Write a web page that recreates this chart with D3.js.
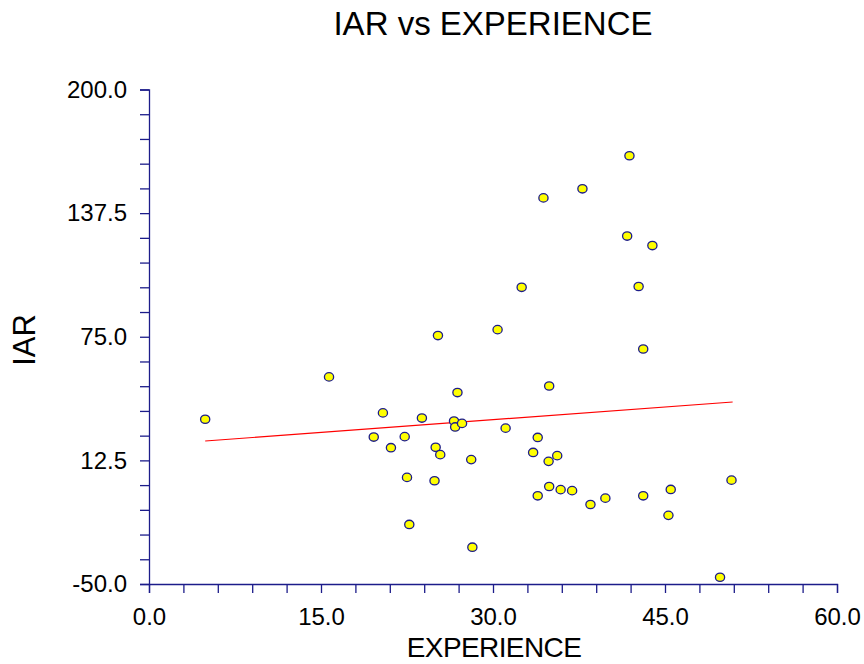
<!DOCTYPE html>
<html lang="en">
<head>
<meta charset="UTF-8">
<title>IAR vs EXPERIENCE</title>
<script src="https://cdn.jsdelivr.net/npm/d3@7"></script>
<style>
  body { margin: 0; background: #fff; }
  text { font-family: "Liberation Sans", Arial, sans-serif; fill: #000; }
</style>
</head>
<body>
<div id="chart"></div>
<script>
// values
const experience = [4.9, 15.7, 19.6, 20.4, 21.1, 22.3, 22.5, 22.7, 23.8, 24.9,
  25.0, 25.2, 25.4, 26.6, 26.7, 26.9, 27.3, 28.1, 28.2, 30.4,
  31.1, 32.5, 33.5, 33.9, 33.9, 34.4, 34.85, 34.9, 34.9, 35.6,
  35.9, 36.9, 37.8, 38.5, 39.8, 41.7, 41.9, 42.7, 43.1, 43.1,
  43.9, 45.3, 45.5, 49.8, 50.8];
const iar = [33.3, 54.7, 24.3, 36.5, 18.9, 24.5, 3.9, -19.9, 33.9, 2.2,
  19.1, 75.6, 15.4, 32.4, 29.4, 46.8, 31.2, 12.9, -31.4, 78.6,
  28.8, 100.0, 16.5, 24.1, -5.4, 145.2, 12.0, -0.7, 50.1, 14.9,
  -2.3, -2.8, 149.8, -9.8, -6.6, 125.9, 166.5, 100.4, 68.8, -5.4,
  121.1, -15.3, -2.2, -46.6, 2.5];
// fitted line ends (experience, iar)
const fitLine = [[4.9, 22.3], [50.9, 42.0]];
const xTicks = [0, 15, 30, 45, 60];
const yTicks = [-50, 12.5, 75, 137.5, 200];

const width = 864, height = 664;
const axisColor = "#1c1c8a";

const svg = d3.select("#chart").append("svg")
  .attr("width", width)
  .attr("height", height);

const x = d3.scaleLinear().domain([0, 60]).range([149, 837]);
const y = d3.scaleLinear().domain([-50, 200]).range([584, 89.5]);

// x axis
const xAxis = d3.axisBottom(x)
  .tickValues(d3.range(0, 60.001, 3))
  .tickSize(9)
  .tickPadding(12)
  .tickFormat(d => xTicks.includes(d) ? d.toFixed(1) : "");
const gx = svg.append("g")
  .attr("transform", `translate(0,${y(-50)})`)
  .call(xAxis);

// y axis
const yAxis = d3.axisLeft(y)
  .tickValues(d3.range(-50, 200.001, 12.5))
  .tickSize(9)
  .tickPadding(13)
  .tickFormat(d => yTicks.includes(d) ? d.toFixed(1) : "");
const gy = svg.append("g")
  .attr("transform", `translate(${x(0)},0)`)
  .call(yAxis);

[gx, gy].forEach(g => {
  g.select(".domain").attr("stroke", axisColor).attr("stroke-width", 1.3);
  g.selectAll(".tick line").attr("stroke", axisColor).attr("stroke-width", 1.3);
  g.selectAll(".tick text")
    .attr("font-size", 24)
    .attr("font-family", "Liberation Sans, Arial, sans-serif")
    .attr("fill", "#000");
});
gx.selectAll(".tick text").attr("dy", "0.85em");

// regression line
svg.append("line")
  .attr("x1", x(fitLine[0][0])).attr("y1", y(fitLine[0][1]))
  .attr("x2", x(fitLine[1][0])).attr("y2", y(fitLine[1][1]))
  .attr("stroke", "#ff0000")
  .attr("stroke-width", 1.2);

// points
const pts = experience.map((e, i) => ({ e: e, v: iar[i] }));
svg.append("g").selectAll("ellipse")
  .data(pts)
  .join("ellipse")
  .attr("cx", d => x(d.e))
  .attr("cy", d => y(d.v))
  .attr("rx", 4.6)
  .attr("ry", 4.2)
  .attr("fill", "#ffff00")
  .attr("stroke", axisColor)
  .attr("stroke-width", 1.3);

// titles
svg.append("text")
  .attr("x", 493).attr("y", 35)
  .attr("text-anchor", "middle")
  .attr("font-size", 33)
  .text("IAR vs EXPERIENCE");

svg.append("text")
  .attr("x", 494).attr("y", 657)
  .attr("text-anchor", "middle")
  .attr("font-size", 28)
  .attr("letter-spacing", -0.6)
  .text("EXPERIENCE");

svg.append("text")
  .attr("transform", "translate(35,340) rotate(-90)")
  .attr("text-anchor", "middle")
  .attr("font-size", 31)
  .text("IAR");
</script>
</body>
</html>
